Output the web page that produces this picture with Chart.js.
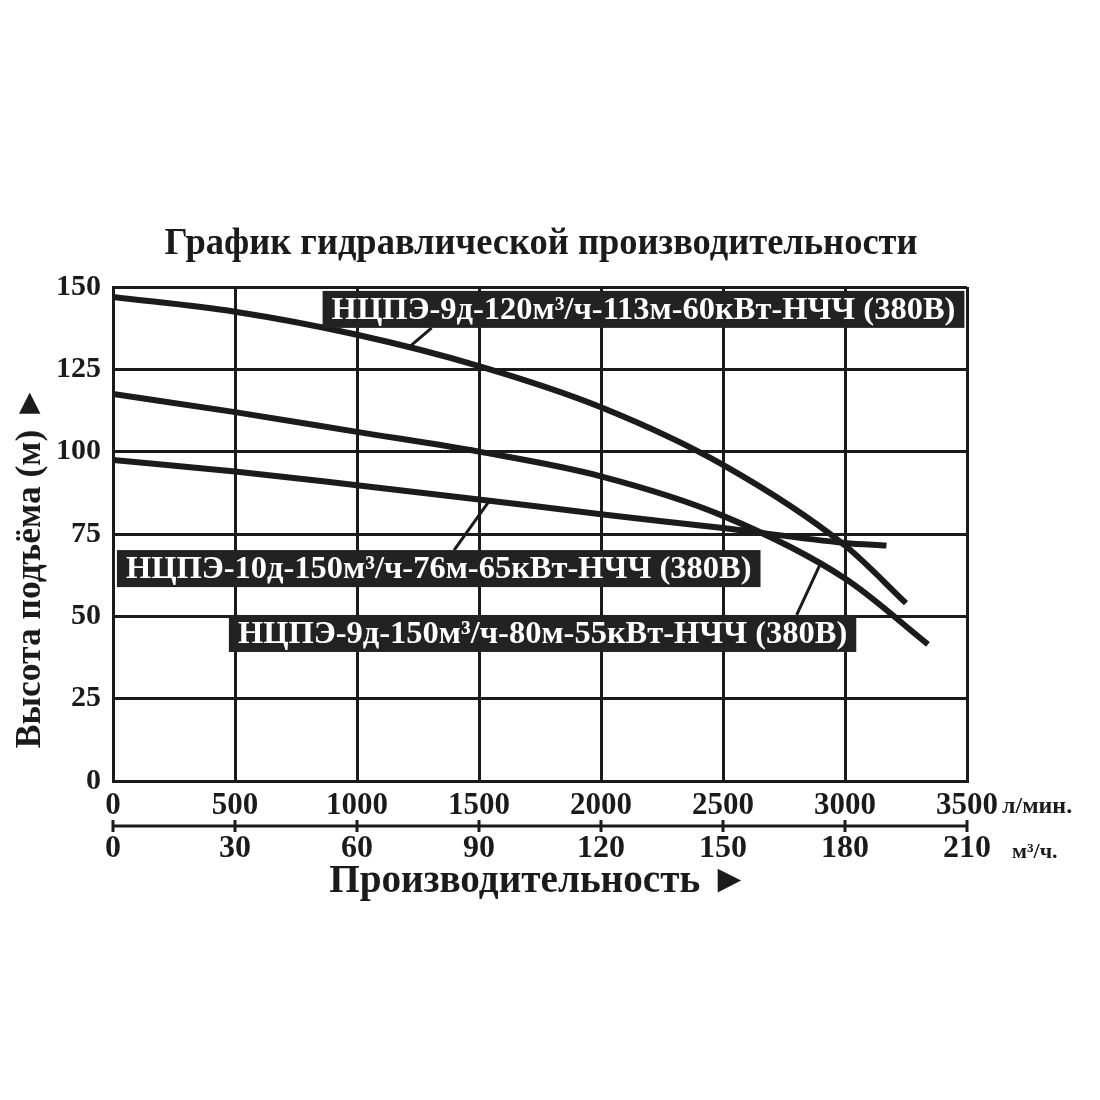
<!DOCTYPE html>
<html>
<head>
<meta charset="utf-8">
<script src="https://cdn.jsdelivr.net/npm/chart.js@4.4.1/dist/chart.umd.min.js"></script>
<style>
  html, body { margin: 0; background: #fff; }
  #wrap { width: 1100px; height: 1100px; }
</style>
</head>
<body>
<div id="wrap"><canvas id="pumpChart" width="1100" height="1100"></canvas></div>
<script>
// flow in l/min, head in m
const flowTicks = [0, 500, 1000, 1500, 2000, 2500, 3000, 3500];
const flowM3hTicks = [0, 30, 60, 90, 120, 150, 180, 210];
const headTicks = [0, 25, 50, 75, 100, 125, 150];

const pump9d120Flow = [0, 500, 1000, 1500, 2000, 2500, 3000, 3250];
const pump9d120Head = [147, 142.5, 135.5, 126, 113.5, 96, 71.5, 54];

const pump9d150Flow = [0, 500, 1000, 1500, 2000, 2500, 3000, 3340];
const pump9d150Head = [117.5, 112, 106, 100, 92.5, 80.5, 61.5, 41.5];

const pump10d150Flow = [0, 500, 1000, 1500, 2000, 2500, 3000, 3170];
const pump10d150Head = [97.5, 94, 89.8, 85.5, 81, 76.8, 72.3, 71.5];

// callout labels: box left edge / centre in data units, pointer ends
const labelNames = [
  "НЦПЭ-9д-120м³/ч-113м-60кВт-НЧЧ (380В)",
  "НЦПЭ-10д-150м³/ч-76м-65кВт-НЧЧ (380В)",
  "НЦПЭ-9д-150м³/ч-80м-55кВт-НЧЧ (380В)",
];
const labelLeftFlow = [859, 16, 475];
const labelMidHead = [143.2, 64.5, 44.8];
const pointerCurveFlow = [1210, 1543, 2898];
const pointerCurveHead = [131.5, 85.1, 65.8];
const pointerBoxFlow = [1306, 1398, 2802];
const pointerToBottom = [true, false, false];

const ink = "#1b1b1b";
const serif = "'Liberation Serif', 'DejaVu Serif', serif";

function toPoints(xs, ys) {
  return xs.map((v, i) => ({ x: v, y: ys[i] }));
}

function condensedText(ctx, text, x, y, size, squeeze, align) {
  ctx.save();
  ctx.font = `bold ${size}px ${serif}`;
  ctx.textBaseline = "middle";
  ctx.textAlign = align || "center";
  ctx.translate(x, y);
  ctx.scale(squeeze, 1);
  ctx.fillText(text, 0, 0);
  ctx.restore();
}

const decorPlugin = {
  id: "decor",
  beforeDraw(chart) {
    const ctx = chart.ctx;
    ctx.save();
    ctx.fillStyle = "#fff";
    ctx.fillRect(0, 0, chart.width, chart.height);
    ctx.restore();
  },
  afterDatasetsDraw(chart) {
    const { ctx } = chart;
    const xs = chart.scales.x;
    const ys = chart.scales.y;
    const boxH = 37;
    labelNames.forEach((name, i) => {
      ctx.save();
      ctx.font = `bold 32.5px ${serif}`;
      const w = ctx.measureText(name).width + 18;
      const left = xs.getPixelForValue(labelLeftFlow[i]);
      const mid = ys.getPixelForValue(labelMidHead[i]);
      const top = mid - boxH / 2;
      // pointer
      const px = xs.getPixelForValue(pointerCurveFlow[i]);
      const py = ys.getPixelForValue(pointerCurveHead[i]);
      const bx = xs.getPixelForValue(pointerBoxFlow[i]);
      const by = pointerToBottom[i] ? top + boxH : top;
      ctx.strokeStyle = ink;
      ctx.lineWidth = 3;
      ctx.beginPath();
      ctx.moveTo(px, py);
      ctx.lineTo(bx, by);
      ctx.stroke();
      ctx.fillStyle = "#222";
      ctx.fillRect(left, top, w, boxH);
      ctx.fillStyle = "#fff";
      ctx.textBaseline = "middle";
      ctx.textAlign = "left";
      ctx.fillText(name, left + 9, mid + 1);
      ctx.restore();
    });
  },
  afterDraw(chart) {
    const { ctx } = chart;
    const xs = chart.scales.x;
    const area = chart.chartArea;
    ctx.save();
    ctx.fillStyle = ink;
    ctx.strokeStyle = ink;

    // title
    condensedText(ctx, "График гидравлической производительности",
      541, 244, 38, 0.96);

    // y axis title
    ctx.save();
    ctx.translate(31, 567);
    ctx.rotate(-Math.PI / 2);
    condensedText(ctx, "Высота подъёма (м) ►", 0, 0, 36, 0.985);
    ctx.restore();

    // units of first axis
    condensedText(ctx, "л/мин.", 1002, 807, 24, 1, "left");

    // second axis (m3/h)
    const axisY = 826;
    ctx.lineWidth = 3;
    ctx.beginPath();
    ctx.moveTo(area.left, axisY);
    ctx.lineTo(area.right, axisY);
    ctx.stroke();
    flowTicks.forEach((v, i) => {
      const px = xs.getPixelForValue(v);
      ctx.beginPath();
      ctx.moveTo(px, axisY - 6);
      ctx.lineTo(px, axisY + 6);
      ctx.stroke();
      condensedText(ctx, String(flowM3hTicks[i]), px, 849, 32, 1);
    });
    condensedText(ctx, "м³/ч.", 1012, 852, 22, 1, "left");

    // x axis title
    condensedText(ctx, "Производительность ►", 539, 882, 40, 0.98);
    ctx.restore();
  },
};

const lineStyle = {
  showLine: true,
  borderColor: ink,
  borderWidth: 6,
  pointRadius: 0,
  fill: false,
  cubicInterpolationMode: "monotone",
  borderCapStyle: "butt",
};

const ctx = document.getElementById("pumpChart").getContext("2d");
const pumpChart = new Chart(ctx, {
  type: "scatter",
  data: {
    datasets: [
      { label: labelNames[0], data: toPoints(pump9d120Flow, pump9d120Head), ...lineStyle },
      { label: labelNames[2], data: toPoints(pump9d150Flow, pump9d150Head), ...lineStyle },
      { label: labelNames[1], data: toPoints(pump10d150Flow, pump10d150Head), ...lineStyle },
    ],
  },
  options: {
    responsive: false,
    animation: false,
    layout: { padding: { top: 287, right: 133, bottom: 0, left: 0 } },
    plugins: {
      legend: { display: false },
      tooltip: { enabled: false },
    },
    scales: {
      x: {
        type: "linear",
        min: 0,
        max: 3500,
        afterFit: (scale) => { scale.height = 319; },
        afterBuildTicks: (scale) => { scale.ticks = flowTicks.map((v) => ({ value: v })); },
        grid: { color: ink, lineWidth: 3, drawTicks: false },
        border: { color: ink, width: 3 },
        ticks: {
          color: ink,
          padding: 6,
          font: { family: serif, size: 31, weight: "bold" },
          callback: (v) => String(v),
        },
      },
      y: {
        min: 0,
        max: 150,
        afterFit: (scale) => { scale.width = 113; },
        afterBuildTicks: (scale) => { scale.ticks = headTicks.map((v) => ({ value: v })); },
        grid: { color: ink, lineWidth: 3, drawTicks: false },
        border: { color: ink, width: 3 },
        ticks: {
          color: ink,
          padding: 12,
          font: { family: serif, size: 30, weight: "bold" },
          callback: (v) => String(v),
        },
      },
    },
  },
  plugins: [decorPlugin],
});
</script>
</body>
</html>
